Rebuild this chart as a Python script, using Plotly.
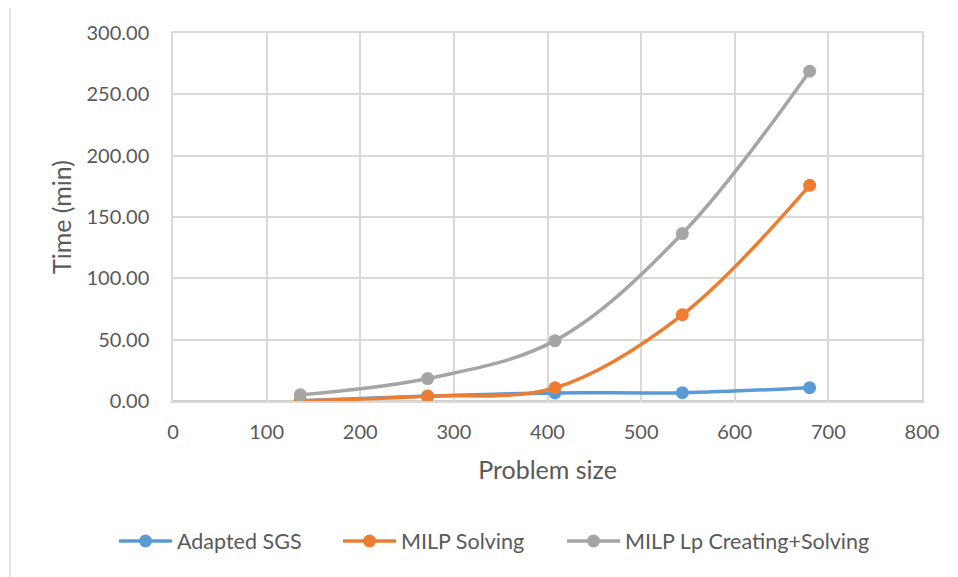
import plotly.graph_objects as go

problem_size = [136, 272, 408, 544, 680]
adapted_sgs = [0.3, 4.0, 6.6, 6.8, 10.8]
milp_solving = [0.0, 3.8, 10.8, 70.3, 175.8]
milp_lp_creating_solving = [5.0, 18.3, 49.2, 136.5, 268.8]

series_names = ["Adapted SGS", "MILP Solving", "MILP Lp Creating+Solving"]
series_colors = ["#5b9bd5", "#ed7d31", "#a5a5a5"]
series_values = [adapted_sgs, milp_solving, milp_lp_creating_solving]

FONT = "Lato, Open Sans, sans-serif"
TXT = "#595959"

# page body has an 8px margin; work in window pixel coordinates
OFF = 8
W, H = 958 - OFF, 577 - OFF
PL, PT, PR, PB = 173, 33, 922, 401  # plot area in window pixels
L, T = PL - OFF, PT - OFF
R, B = W - (PR - OFF), H - (PB - OFF)
pw, ph = PR - PL, PB - PT

def px(x):
    return (x - PL) / pw

def py(y):
    return (PB - y) / ph

legend_ids = ["legend", "legend2", "legend3"]
legend_x = [114, 338, 562]

fig = go.Figure()
for name, color, vals, lid in zip(series_names, series_colors, series_values, legend_ids):
    fig.add_trace(go.Scatter(
        x=problem_size, y=vals, name=name, mode="lines+markers",
        line=dict(color=color, width=3.5, shape="spline", smoothing=1.0),
        marker=dict(color=color, size=13),
        legend=lid,
    ))

legend_common = dict(orientation="h", xanchor="left", y=py(541), yanchor="middle",
                     font=dict(size=21.5, color=TXT), bgcolor="rgba(0,0,0,0)", itemwidth=53)

fig.update_layout(
    width=W, height=H,
    margin=dict(l=L, r=R, t=T, b=B),
    paper_bgcolor="white", plot_bgcolor="white",
    font=dict(family=FONT, color=TXT, size=20),
    showlegend=True,
    legend=dict(x=px(legend_x[0]), **legend_common),
    legend2=dict(x=px(legend_x[1]), **legend_common),
    legend3=dict(x=px(legend_x[2]), **legend_common),
    xaxis=dict(range=[0, 800], dtick=100, tick0=0, showgrid=True, gridcolor="#d9d9d9", gridwidth=1.5,
               zeroline=False, showline=True, linecolor="#d9d9d9", linewidth=1.5, mirror=True,
               ticks="", ticklabelstandoff=12,
               tickfont=dict(size=20, color=TXT),
               title=dict(text="Problem size", font=dict(size=25, color=TXT), standoff=20)),
    yaxis=dict(range=[0, 300], dtick=50, tick0=0, tickformat=".2f", showgrid=True, gridcolor="#d9d9d9",
               gridwidth=1.5, zeroline=False, showline=True, linecolor="#d9d9d9", linewidth=1.5, mirror=True,
               ticks="", ticklabelstandoff=18,
               tickfont=dict(size=20, color=TXT),
               title=dict(text="Time (min)", font=dict(size=25, color=TXT), standoff=8)),
    shapes=[
        dict(type="rect", xref="paper", yref="paper",
             x0=px(10), x1=px(990), y0=py(600), y1=py(4),
             line=dict(color="#d9d9d9", width=1.5), fillcolor="rgba(0,0,0,0)", layer="below"),
        dict(type="line", xref="paper", yref="y", x0=0, x1=1, y0=0, y1=0,
             line=dict(color="#bfbfbf", width=1.5), layer="below"),
    ],
)

fig.write_html("out.html")
